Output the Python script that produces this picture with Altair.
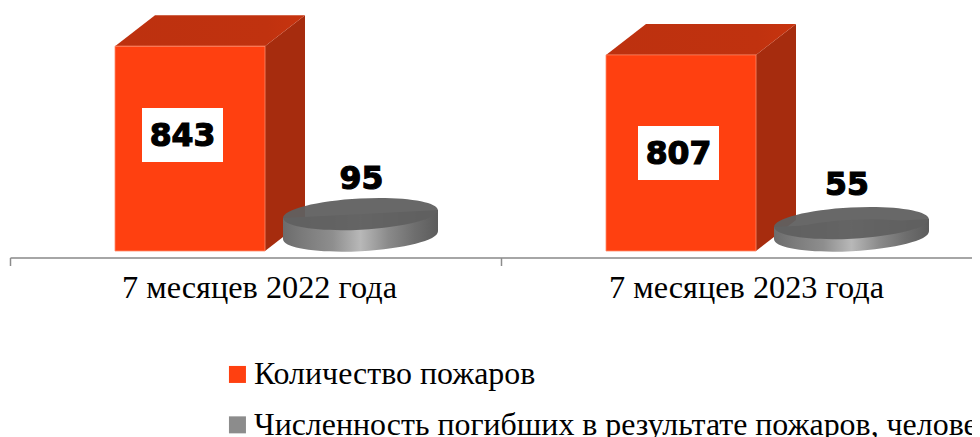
import altair as alt
import pandas as pd

categories = ["7 месяцев 2022 года", "7 месяцев 2023 года"]
series = ["Количество пожаров", "Численность погибших в результате пожаров, человек"]
fires = [843, 807]
deaths = [95, 55]

# page-pixel geometry of the plot
W, H = 964, 429
CAT_PX, ORIGIN = 491.0, 10.5     # px per category, page x of category 0
UNIT = 4.115                     # value units per px
BASE_Y = 251.0                   # page y of value 0


def X(i, px=0.0):
    return i + px / CAT_PX


def Y_PX(py):
    return (BASE_Y - py) * UNIT


XMIN, XMAX = (8 - ORIGIN) / CAT_PX, (8 + W - ORIGIN) / CAT_PX
x_scale = alt.Scale(domain=[XMIN, XMAX], nice=False, zero=False)
y_scale = alt.Scale(domain=[Y_PX(8 + H), Y_PX(8)], nice=False, zero=False)
xe = alt.X("x:Q", scale=x_scale, axis=None)
ye = alt.Y("y:Q", scale=y_scale, axis=None)

BAR_L, BAR_W, DX, DY = 104.5, 150.0, 40.0, 31.0 * UNIT
front_rows, side_rows, top_rows = [], [], []
for i, v in enumerate(fires):
    l, r = X(i, BAR_L), X(i, BAR_L + BAR_W)
    rr = X(i, BAR_L + BAR_W + DX)
    front_rows.append({"x": l, "x2": r, "y": v, "y2": 0, "series": series[0]})
    side_rows += [{"i": i, "x": r, "y": v, "y2": 0}, {"i": i, "x": rr, "y": v + DY, "y2": DY}]
    top_rows += [
        {"i": i, "x": l, "y": v, "y2": v},
        {"i": i, "x": X(i, BAR_L + DX), "y": v + DY, "y2": v},
        {"i": i, "x": r, "y": v + DY, "y2": v},
        {"i": i, "x": rr, "y": v + DY, "y2": v + DY},
    ]

side = alt.Chart(pd.DataFrame(side_rows)).mark_area(color="#a62c0e", opacity=1).encode(
    x=xe, y=ye, y2="y2:Q", detail="i:N")
top = alt.Chart(pd.DataFrame(top_rows)).mark_area(
    color=alt.Gradient(gradient="linear", x1=0, x2=1, y1=0, y2=0,
                       stops=[alt.GradientStop(color="#bd310f", offset=0),
                              alt.GradientStop(color="#c0320f", offset=0.8),
                              alt.GradientStop(color="#c8340f", offset=1)]),
    opacity=1, interpolate="linear").encode(x=xe, y=ye, y2="y2:Q", detail="i:N")
front = alt.Chart(pd.DataFrame(front_rows)).mark_rect(stroke="#ff8a6a", strokeWidth=0.8).encode(
    x=xe, x2="x2:Q", y=ye, y2="y2:Q",
    color=alt.Color("series:N",
                    scale=alt.Scale(domain=series, range=["#ff4010", "#8c8c8c"]),
                    legend=alt.Legend(orient="none", legendX=213.5, legendY=350.5, title=None,
                                      symbolType="square", symbolSize=289, symbolStrokeWidth=0,
                                      symbolOpacity=1, labelFont="Liberation Serif",
                                      labelFontSize=31.9, labelColor="#000000", labelLimit=1200,
                                      labelOffset=0.5, rowPadding=17.4, padding=0)))

# discs
DISC_C, RX, RY = 350.0, 77.5, 16.3
TILT_PX = 4.0
DISC_K = 0.93
BOT_C = Y_PX(235.5)
ry_ratio = RY / RX
ELLIPSE = f"M-0.9987,0.0517A1,{ry_ratio*0.96:.4f},-3,1,1,0.9987,-0.0517A1,{ry_ratio*0.96:.4f},-3,1,1,-0.9987,0.0517Z"

body_rows, ell_bot, ell_top = [], [], []
for i, v in enumerate(deaths):
    t = BOT_C + v * DISC_K
    for sgn in (-1, 1):
        body_rows.append({"i": i, "x": X(i, DISC_C + sgn * RX),
                          "y": t + sgn * TILT_PX * UNIT, "y2": BOT_C + sgn * TILT_PX * UNIT})
    ell_bot.append({"x": X(i, DISC_C), "y": BOT_C})
    ell_top.append({"x": X(i, DISC_C), "y": t})

GRAD = alt.Gradient(gradient="linear", x1=0, x2=1, y1=0, y2=0, stops=[
    alt.GradientStop(color="#6c6c6c", offset=0),
    alt.GradientStop(color="#7a7a7a", offset=0.12),
    alt.GradientStop(color="#8e8e8e", offset=0.32),
    alt.GradientStop(color="#b8b8b8", offset=0.5),
    alt.GradientStop(color="#8a8a8a", offset=0.68),
    alt.GradientStop(color="#6e6e6e", offset=0.85),
    alt.GradientStop(color="#5c5c5c", offset=1),
])
SIZE = (2 * RX) ** 2
body = alt.Chart(pd.DataFrame(body_rows)).mark_area(color=GRAD, opacity=1).encode(
    x=xe, y=ye, y2="y2:Q", detail="i:N")
bottom = alt.Chart(pd.DataFrame(ell_bot)).mark_point(
    shape=ELLIPSE, size=SIZE, filled=True, color=GRAD, opacity=1, strokeWidth=0).encode(x=xe, y=ye)
disc_top = alt.Chart(pd.DataFrame(ell_top)).mark_point(
    shape=ELLIPSE, size=SIZE, filled=True, color="#606060", opacity=0.95, strokeWidth=0).encode(x=xe, y=ye)

# value labels
box_rows, label_rows = [], []
BOX_W = 81.0
box_cx = [172.0, 177.0]
box_cy = [135.0, 153.0]
for i, v in enumerate(fires):
    box_rows.append({"x": X(i, box_cx[i] - BOX_W / 2), "x2": X(i, box_cx[i] + BOX_W / 2),
                     "y": Y_PX(box_cy[i] - 27), "y2": Y_PX(box_cy[i] + 27)})
    label_rows.append({"x": X(i, box_cx[i]), "y": Y_PX(box_cy[i]), "t": str(v)})
d_cx = [351.0, 345.5]
d_cy = [178.0, 184.0]
for i, v in enumerate(deaths):
    label_rows.append({"x": X(i, d_cx[i]), "y": Y_PX(d_cy[i]), "t": str(v)})

boxes = alt.Chart(pd.DataFrame(box_rows)).mark_rect(color="#ffffff", opacity=1).encode(
    x=xe, x2="x2:Q", y=ye, y2="y2:Q")
labels = alt.Chart(pd.DataFrame(label_rows)).mark_text(
    font="DejaVu Sans", fontWeight="bold", fontSize=31.5, color="#000000", dy=2,
    stroke="#000000", strokeWidth=1.2, align="center", baseline="middle").encode(
    x=xe, y=ye, text="t:N")

# category axis drawn in the chart's own scales
axis_line = alt.Chart(pd.DataFrame({"x": [0], "x2": [XMAX], "y": [Y_PX(258)]})).mark_rule(
    color="#a6a6a6", strokeWidth=2).encode(x=xe, x2="x2:Q", y=ye)
ticks = alt.Chart(pd.DataFrame({"x": [0, 1], "y": [Y_PX(258)] * 2, "y2": [Y_PX(266)] * 2})).mark_rule(
    color="#8c8c8c", strokeWidth=1.5).encode(x=xe, y=ye, y2="y2:Q")
cat_dx = [249.0, 245.0]
cat_df = pd.DataFrame({"x": [X(i, cat_dx[i]) for i in range(2)],
                       "y": [Y_PX(288)] * 2, "t": categories})
cat_text = alt.Chart(cat_df).mark_text(
    font="Liberation Serif", fontSize=32.3, color="#000000", align="center", baseline="middle").encode(
    x=xe, y=ye, text="t:N")

chart = alt.layer(
    side, top, front, bottom, body, disc_top, boxes, labels, axis_line, ticks, cat_text
).properties(width=W, height=H, padding=0, autosize=alt.AutoSizeParams(type="none"),
             background="#ffffff").configure_view(stroke=None)

chart.save("out.html", embed_options={"renderer": "svg", "actions": False})
